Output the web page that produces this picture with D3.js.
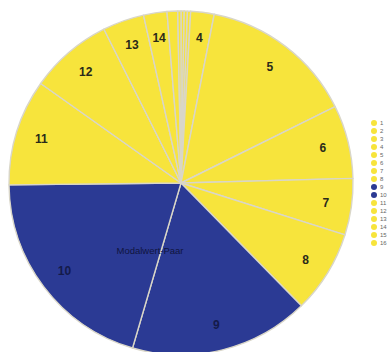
<!DOCTYPE html>
<html>
<head>
<meta charset="utf-8">
<script src="https://cdn.jsdelivr.net/npm/d3@7"></script>
<style>
  html, body { margin: 0; padding: 0; background: #fff; overflow: hidden; }
  svg { display: block; }
</style>
</head>
<body>
<svg id="chart" width="387" height="352"></svg>
<script>
// Categories and their shares (percent)
const categories = ["1","2","3","4","5","6","7","8","9","10","11","12","13","14","15","16"];
const values = [0.3, 0.3, 0.3, 2.2, 14.6, 6.9, 5.3, 7.8, 16.9, 20.3, 10.0, 7.8, 3.9, 2.2, 1.0, 0.3];
// Categories that form the modal pair
const highlighted = ["9", "10"];
const annotation = "Modalwert-Paar";

const width = 387, height = 352;
const cx = 181, cy = 183, radius = 172;

const svg = d3.select("#chart");

const color = d3.scaleOrdinal()
  .domain([false, true])
  .range(["#f7e43c", "#2b3a94"]);

const data = categories.map((c, i) => ({ cat: c, value: values[i], hi: highlighted.includes(c) }));

const pie = d3.pie().value(d => d.value).sort(null);
const arcs = pie(data);
const arc = d3.arc().innerRadius(0).outerRadius(radius);
const labelArc = d3.arc().innerRadius(radius * 0.85).outerRadius(radius * 0.85);

const g = svg.append("g").attr("transform", `translate(${cx},${cy})`);

g.selectAll("path.slice")
  .data(arcs)
  .join("path")
  .attr("class", "slice")
  .attr("d", arc)
  .attr("fill", d => color(d.data.hi))
  .attr("stroke", "#d9d6c8")
  .attr("stroke-width", 1.4)
  .attr("stroke-linejoin", "round");

// Slice numbers, only where the slice is wide enough
g.selectAll("text.num")
  .data(arcs.filter(d => d.endAngle - d.startAngle > 0.1))
  .join("text")
  .attr("class", "num")
  .attr("transform", d => `translate(${labelArc.centroid(d)})`)
  .attr("text-anchor", "middle")
  .attr("dominant-baseline", "central")
  .attr("font-family", "Liberation Sans, Arial, sans-serif")
  .attr("font-weight", "bold")
  .attr("font-size", 12)
  .attr("fill", d => d.data.hi ? "#141a4a" : "#2a2a1a")
  .text(d => d.data.cat);

// Annotation for the modal pair
g.append("text")
  .attr("x", -31)
  .attr("y", 67)
  .attr("text-anchor", "middle")
  .attr("dominant-baseline", "central")
  .attr("font-family", "Liberation Sans, Arial, sans-serif")
  .attr("font-size", 9.5)
  .attr("fill", "#10153f")
  .text(annotation);

// Legend
const legend = svg.append("g").attr("transform", "translate(374,123)");
const items = legend.selectAll("g.item")
  .data(data)
  .join("g")
  .attr("class", "item")
  .attr("transform", (d, i) => `translate(0,${i * 8})`);
items.append("circle")
  .attr("r", 3)
  .attr("fill", d => color(d.hi));
items.append("text")
  .attr("x", 6)
  .attr("dominant-baseline", "central")
  .attr("font-family", "Liberation Sans, Arial, sans-serif")
  .attr("font-size", 6)
  .attr("fill", "#666")
  .text(d => d.cat);
</script>
</body>
</html>
